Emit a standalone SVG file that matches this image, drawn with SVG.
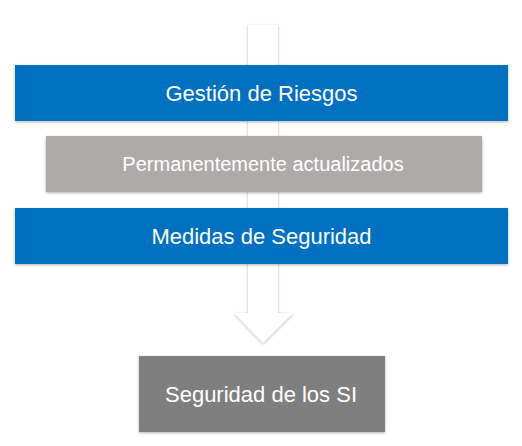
<svg xmlns="http://www.w3.org/2000/svg" width="522" height="446" viewBox="0 0 522 446">
<defs>
<filter id="sh" x="-10%" y="-10%" width="120%" height="130%">
<feGaussianBlur in="SourceAlpha" stdDeviation="1.5"/>
<feOffset dx="0" dy="1" result="b"/>
<feComponentTransfer><feFuncA type="linear" slope="0.3"/></feComponentTransfer>
<feMerge><feMergeNode/><feMergeNode in="SourceGraphic"/></feMerge>
</filter>
</defs>
<style>
.t{font-family:"Liberation Sans",Arial,sans-serif;fill:#fff;text-anchor:middle}
.blue{fill:#0070c0}
</style>
<rect width="522" height="446" fill="#fff"/>
<g id="connectors">
<path d="M248 25 H278 V313 H293 L263 343 L234 313 H248 Z" fill="#fff" filter="url(#sh)"/>
</g>
<g id="gestion">
<rect class="blue" x="15" y="65" width="493" height="56" filter="url(#sh)"/>
<text class="t" x="261.5" y="101" font-size="22">Gestión de Riesgos</text>
</g>
<g id="permanente">
<rect x="46" y="136" width="436" height="56" fill="#aeaaaa" filter="url(#sh)"/>
<text class="t" x="263" y="171" font-size="20">Permanentemente actualizados</text>
</g>
<g id="medidas">
<rect class="blue" x="15" y="208" width="493" height="56" filter="url(#sh)"/>
<text class="t" x="261.5" y="244" font-size="22">Medidas de Seguridad</text>
</g>
<g id="seguridad">
<rect x="139" y="356" width="246" height="76" fill="#7f7f7f" filter="url(#sh)"/>
<text class="t" x="261" y="402" font-size="22">Seguridad de los SI</text>
</g>
</svg>
